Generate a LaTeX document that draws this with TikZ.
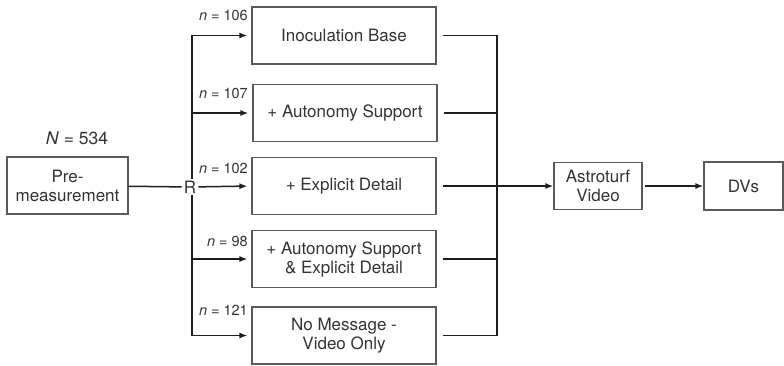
\documentclass[tikz,border=0pt]{standalone}
\usepackage{fontspec}
\setmainfont{TeX Gyre Heros}
\usetikzlibrary{arrows.meta}
\definecolor{ink}{HTML}{1E1E1E}
\definecolor{boxline}{HTML}{5A5A5A}
\definecolor{txt}{HTML}{333333}
\begin{document}
\begin{tikzpicture}[x=1pt,y=-1pt,
  box/.style={draw=boxline,line width=1.1pt,minimum width=184pt,minimum height=57pt,
    align=center,text=txt,font=\fontsize{17}{19}\selectfont,inner sep=0pt},
  nlab/.style={anchor=east,text=txt,font=\fontsize{14.5}{16}\selectfont,inner sep=0pt},
  link/.style={draw=ink,line width=1.5pt},
  arr/.style={link,-{Latex[length=8pt,width=6pt]}}]
\useasboundingbox (0,0) rectangle (784,365);

% entry box and randomisation point
\node[box,minimum width=121pt] (pre) at (67.5,185.5) {Pre-\\measurement};
\node[text=txt,font=\fontsize{17.5}{19}\selectfont,inner sep=0pt] (Nlab) at (77,138) {\textit{N} = 534};
\node[text=txt,font=\fontsize{17}{19}\selectfont,inner sep=2pt] (R) at (190,187) {R};

% condition boxes
\node[box] (b1) at (344,35.5) {Inoculation Base};
\node[box] (b2) at (345,113) {+ Autonomy Support};
\node[box] (b3) at (344,186) {+ Explicit Detail};
\node[box] (b4) at (344,259) {+ Autonomy Support\\\& Explicit Detail};
\node[box] (b5) at (344,335.5) {No Message -\\Video Only};

% group sizes
\node[nlab] (n1) at (248,15) {\textit{n} = 106};
\node[nlab] (n2) at (248,93) {\textit{n} = 107};
\node[nlab] (n3) at (248,168) {\textit{n} = 102};
\node[nlab] (n4) at (248,241) {\textit{n} = 98};
\node[nlab] (n5) at (248,310) {\textit{n} = 121};

% follow-up boxes
\node[box,minimum width=88pt,minimum height=47pt] (astro) at (598,186) {Astroturf\\Video};
\node[box,minimum width=79pt,minimum height=48pt] (dvs) at (743.5,186) {DVs};

\coordinate (busL) at (192,0);
\coordinate (busR) at (497,0);

% randomisation fan-out
\draw[link] (pre) -- (R);
\draw[arr,shorten >=4pt] (R.north -| busL) |- (b1.west);
\draw[arr,shorten >=4pt] (R.north -| busL) |- (b2.west);
\draw[arr,shorten >=4pt] (R) -- (b3.west);
\draw[arr,shorten >=4pt] (R.south -| busL) |- (b4.west);
\draw[arr,shorten >=4pt] (R.south -| busL) |- (b5.west);

% merge into the video
\draw[link,shorten <=6pt] (b1.east) -| (b1.east -| busR) -- (b5.east -| busR);
\draw[link,shorten <=6pt] (b2.east) -- (b2.east -| busR);
\draw[link,shorten <=6pt] (b4.east) -- (b4.east -| busR);
\draw[link,shorten <=6pt] (b5.east) -- (b5.east -| busR);
\draw[arr,shorten <=6pt] (b3.east) -- (astro.west);
\draw[arr,shorten <=2pt] (astro.east) -- (dvs.west);
\end{tikzpicture}
\end{document}
